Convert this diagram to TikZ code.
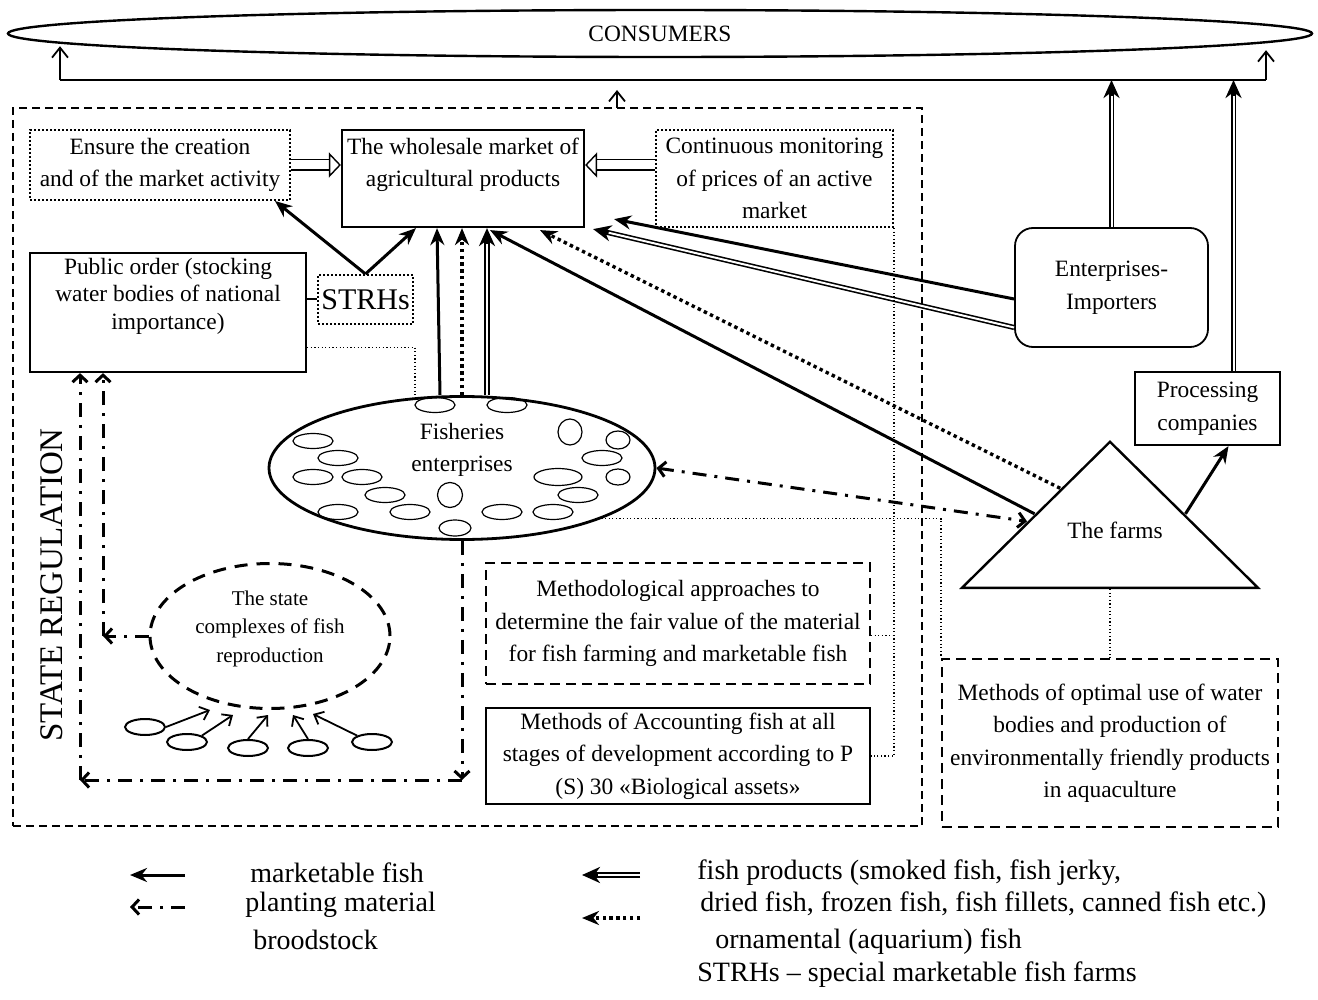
\documentclass[tikz,border=0pt]{standalone}
\usepackage{fontspec}
\setmainfont{Liberation Serif}
\usetikzlibrary{arrows.meta,shapes.geometric,calc}
\newcommand{\pxu}{0.5pt}

\begin{document}
\begin{tikzpicture}[x=0.5pt, y=-0.5pt,
    every node/.style={font=\fontsize{11.7}{16.25}\selectfont, align=center, inner sep=0pt},
    box/.style={draw, line width=1.1pt},
    dotbox/.style={draw, line width=1pt, dash pattern=on 1pt off 1pt},
    dashbox/.style={draw, line width=1pt, dash pattern=on 5pt off 3pt},
    region/.style={draw, line width=0.65pt, dash pattern=on 4pt off 2.5pt},
    link/.style={line width=0.6pt, dash pattern=on 0.6pt off 1.2pt},
    mf/.style={line width=1.5pt, -{Stealth[length=8.5pt, width=7pt]}},
    pm/.style={line width=1.5pt, dash pattern=on 7pt off 4pt on 1.5pt off 4pt, -{Straight Barb[length=3.5pt, width=7.5pt]}},
    fp/.style={line width=2.6pt, -{Stealth[length=9pt, width=8pt]}, postaction={draw, white, line width=1pt, shorten >=8pt, -}},
    oa/.style={line width=1.7pt, dash pattern=on 1.7pt off 1.7pt, -{Stealth[length=8.5pt, width=7pt]}},
    up/.style={line width=0.9pt, -{Straight Barb[length=5pt, width=8pt]}},
    hollow/.style={double, double distance=4.5pt, line width=0.7pt, -{Triangle[open, length=6pt, width=12.5pt]}},
    small/.style={line width=0.9pt, -{Straight Barb[length=4pt, width=7pt]}},
    fishlet/.style={line width=0.6pt},
    legend/.style={anchor=west, font=\fontsize{14}{16}\selectfont},
  ]
  \useasboundingbox (0,0) rectangle (1318,1000);

  % Consumers
  \node[draw, ellipse, line width=1.2pt, minimum width=1304*\pxu, minimum height=47*\pxu] (cons) at (660,33.5) {CONSUMERS};
  \coordinate (busL) at (60,80);
  \coordinate (busR) at (1266,80);
  \draw[line width=1pt] (busL) -- (busR);
  \draw[up, shorten >=-6pt] (busL) -- (busL |- cons.south);
  \draw[up, shorten >=-4pt] (busR) -- (busR |- cons.south);

  % State regulation
  \node[region, minimum width=909*\pxu, minimum height=718*\pxu] (reg) at (467.5,467) {};
  \node[rotate=90, font=\fontsize{16.5}{18}\selectfont] (sreg) at (52,585) {STATE REGULATION};
  \coordinate (regout) at (617,108);
  \draw[up, shorten >=5pt] (regout) -- (regout |- busL);

  % Wholesale market
  \node[dotbox, minimum width=260*\pxu, minimum height=70*\pxu] (ens) at (160,165) {Ensure the creation\\and of the market activity};
  \node[box, minimum width=242*\pxu, minimum height=97*\pxu] (whole) at (463,178.5) {The wholesale market of\\agricultural products\\\mbox{}};
  \node[dotbox, minimum width=237*\pxu, minimum height=97*\pxu] (mon) at (774.5,178.5) {Continuous monitoring\\of prices of an active\\market};
  \draw[hollow] (ens.east) -- (ens.east -| whole.west);
  \draw[hollow] (mon.west |- ens.east) -- (ens.east -| whole.east);

  % Public order
  \node[box, minimum width=276*\pxu, minimum height=119*\pxu, font=\fontsize{11.7}{13.75}\selectfont] (pub) at (168,312.5) {Public order (stocking\\water bodies of national\\importance)\\[5pt]\mbox{}};
  \node[dotbox, minimum width=95*\pxu, minimum height=49*\pxu, font=\fontsize{15}{18}\selectfont] (strh) at (365.5,299.5) {STRHs};
  \draw[line width=1pt] (strh.west -| pub.east) -- (strh.west);
  \draw[mf] (strh.north) -- ([shift={(115,0)}]ens.south);
  \draw[mf] (strh.north) -- ([shift={(-47,0)}]whole.south);

  % Fisheries enterprises
  \node[draw, ellipse, line width=1.4pt, minimum width=386*\pxu, minimum height=143*\pxu] (fish) at (462,468) {};
  \node (fishtxt) at (462,450) {Fisheries\\enterprises};
  \foreach \x/\y/\rx/\ry in {435/405/20/7.5, 507/405/20/7.5, 570/432/12/13, 618/440/12/9,
      313/441/20/7.5, 338/458/20/7.5, 602/458/20/7.5, 313/477/20/7.5, 362/477/20/7.5,
      558/477/24/8.5, 618/477/12/8, 385/495/20/7.5, 450/495/12.5/12.5, 578/495/20/7.5,
      338/512/20/7.5, 410/512/20/7.5, 502/512/20/7.5, 553/512/20/7.5, 455/528/16/8}
    \draw[fishlet] (\x,\y) ellipse [x radius=\rx, y radius=\ry];
  \draw[mf] ([shift={(-22,0)}]fish.north) -- ([shift={(-26,0)}]whole.south);
  \draw[oa] (fish.north) -- ([shift={(-1,0)}]whole.south);
  \draw[fp] ([shift={(25,0)}]fish.north) -- ([shift={(24,0)}]whole.south);

  % Importers and processing
  \node[box, line width=0.9pt, rounded corners=9pt, minimum width=193*\pxu, minimum height=119*\pxu] (imp) at (1111.5,287.5) {Enterprises-\\Importers};
  \node[box, minimum width=145*\pxu, minimum height=73*\pxu] (proc) at (1207.5,408.5) {Processing\\companies};
  \draw[mf] ([shift={(0,11.5)}]imp.west) -- ([shift={(29,-9)}]whole.south east);
  \draw[fp] ([shift={(0,40)}]imp.west) -- ([shift={(8,1)}]whole.south east);
  \draw[fp] (imp.north) -- (imp.north |- busL);
  \coordinate (procout) at ([shift={(26,0)}]proc.north);
  \draw[fp] (procout) -- (procout |- busL);

  % The farms
  \node[draw, isosceles triangle, isosceles triangle stretches, shape border rotate=90, line width=1.2pt, minimum width=296*\pxu, minimum height=146*\pxu, anchor=lower side] (farms) at (1110,589) {};
  \node (farmstxt) at (1115,530) {The farms};
  \draw[mf] (farms.left side) -- ([shift={(27,2)}]whole.south);
  \draw[oa] ($(farms.apex)!0.33!(farms.left corner)$) -- ([shift={(77,2)}]whole.south);
  \draw[mf] (farms.right side) -- ([shift={(21,0)}]proc.south);
  \draw[pm, {Straight Barb[length=3.5pt, width=7.5pt]}-{Straight Barb[length=3.5pt, width=7.5pt]}] (fish.east) -- ($(farms.apex)!0.55!(farms.left corner)$);

  % Methods
  \node[dashbox, minimum width=384*\pxu, minimum height=121*\pxu] (meth) at (678,623.5) {Methodological approaches to\\determine the fair value of the material\\for fish farming and marketable fish};
  \node[box, minimum width=384*\pxu, minimum height=96*\pxu] (acc) at (678,756) {Methods of Accounting fish at all\\stages of development according to P\\(S) 30 «Biological assets»};
  \node[dashbox, minimum width=336*\pxu, minimum height=168*\pxu] (opt) at (1110,743) {Methods of optimal use of water\\bodies and production of\\environmentally friendly products\\in aquaculture};

  % Dotted links
  \draw[link] ([shift={(0,35)}]pub.east) -| ([shift={(-47,0)}]fish.north);
  \draw[link] (mon.south east) |- (acc.east);
  \coordinate (methlink) at ([shift={(0,12)}]meth.east);
  \draw[link] (methlink) -- (methlink -| mon.south east);
  \draw[link] (fish.-20) -| (opt.north west);
  \draw[link] (farms.lower side) -- (opt.north);

  % State complexes of fish reproduction
  \node[draw, ellipse, line width=1.5pt, dash pattern=on 6.5pt off 4.5pt, minimum width=240*\pxu, minimum height=145*\pxu] (st) at (270,636) {};
  \node[font=\fontsize{10.5}{14.25}\selectfont] (sttxt) at (270,628.5) {The state\\complexes of fish\\reproduction};
  \node[draw, ellipse, line width=1pt, minimum width=40*\pxu, minimum height=16*\pxu] (sc1) at (145,727) {};
  \node[draw, ellipse, line width=1pt, minimum width=40*\pxu, minimum height=16*\pxu] (sc2) at (187,742) {};
  \node[draw, ellipse, line width=1pt, minimum width=40*\pxu, minimum height=16*\pxu] (sc3) at (248,748) {};
  \node[draw, ellipse, line width=1pt, minimum width=40*\pxu, minimum height=16*\pxu] (sc4) at (308,748) {};
  \node[draw, ellipse, line width=1pt, minimum width=40*\pxu, minimum height=16*\pxu] (sc5) at (372,742) {};
  \draw[small] (sc1.east) -- ([shift={(-60,0)}]st.south);
  \draw[small] (sc2.north east) -- ([shift={(-37,5)}]st.south);
  \draw[small] (sc3.north) -- ([shift={(-2,5)}]st.south);
  \draw[small] (sc4.north) -- ([shift={(23,5)}]st.south);
  \draw[small] (sc5.north west) -- ([shift={(43,4)}]st.south);

  % Planting material
  \coordinate (cornerR) at (462,780);
  \coordinate (cornerL) at (80,780);
  \coordinate (stL) at (103,636);
  \draw[pm] (fish.south) -- (cornerR);
  \draw[pm] (cornerR) -- (cornerL);
  \draw[pm] (cornerL) -- (cornerL |- pub.south);
  \draw[pm] (st.west) -- (stL);
  \draw[pm] (stL) -- (stL |- pub.south);

  % Legend
  \coordinate (k1) at (185,875); \coordinate (k1e) at (130,875);
  \coordinate (k2) at (185,907); \coordinate (k2e) at (130,907);
  \coordinate (k3) at (640,875); \coordinate (k3e) at (582,875);
  \coordinate (k4) at (640,918); \coordinate (k4e) at (582,918);
  \draw[mf] (k1) -- (k1e);
  \draw[pm] (k2) -- (k2e);
  \draw[fp] (k3) -- (k3e);
  \draw[oa] (k4) -- (k4e);
  \node[legend] (lg1) at (250,873) {marketable fish};
  \node[legend] (lg2) at (245,905) {planting material};
  \node[legend] (lg3) at (253,940) {broodstock};
  \node[legend] (lg4) at (697,873) {fish products (smoked fish, fish jerky,};
  \node[legend] (lg5) at (700,905) {dried fish, frozen fish, fish fillets, canned fish etc.)};
  \node[legend] (lg6) at (715,942) {ornamental (aquarium) fish};
  \node[legend] (lg7) at (697,975) {STRHs – special marketable fish farms};
\end{tikzpicture}
\end{document}
